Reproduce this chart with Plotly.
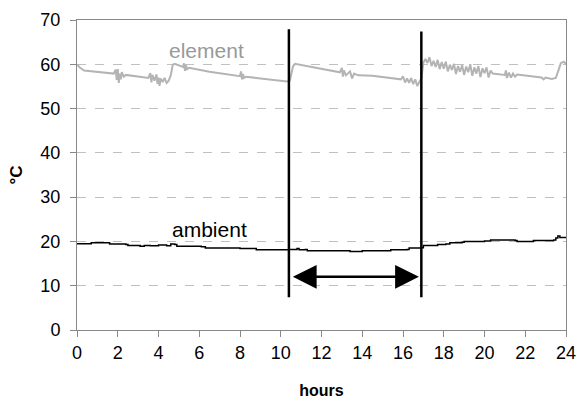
import plotly.graph_objects as go

# ---- data ----
element_hours = [0.0, 0.15, 0.35, 1.0, 1.8, 1.9, 1.95, 2.0, 2.05, 2.1, 2.15, 2.2, 2.3, 2.4,
                 3.0, 3.5, 3.6, 3.65, 3.7, 3.8, 3.9, 3.95, 4.0, 4.05, 4.1, 4.2, 4.3, 4.4, 4.5,
                 4.6, 4.7, 4.8, 5.2, 5.25, 5.3, 5.35, 5.4, 5.5, 6.5, 7.5, 8.0, 8.05, 8.1, 8.15,
                 8.2, 8.3, 9.5, 10.3, 10.45, 10.6, 10.7, 11.5, 12.4, 12.9, 13.0, 13.05, 13.1,
                 13.2, 13.4, 13.5, 13.6, 13.8, 14.5, 15.5, 15.9, 16.0, 16.1, 16.2, 16.3, 16.4,
                 16.5, 16.6, 16.7, 16.8, 16.9, 17.0, 17.1, 17.2, 17.3, 17.4, 17.5, 17.6, 17.7,
                 17.8, 17.9, 18.0, 18.1, 18.2, 18.3, 18.4, 18.5, 18.6, 18.7, 18.8, 18.9, 19.0,
                 19.1, 19.2, 19.3, 19.4, 19.5, 19.6, 19.7, 19.8, 19.9, 20.0, 20.1, 20.2, 20.3,
                 20.4, 20.8, 21.0, 21.05, 21.1, 21.2, 21.3, 21.4, 21.5, 21.6, 22.3, 22.8, 22.9,
                 23.0, 23.3, 23.5, 23.65, 23.75, 23.9, 24.0]
element_temp = [60.0, 59.2, 58.6, 58.3, 57.9, 58.8, 56.5, 58.9, 55.8, 57.9, 56.6, 58.2, 57.2, 57.6,
                57.2, 56.9, 58.0, 55.9, 57.6, 56.3, 57.7, 55.6, 57.0, 55.1, 56.8, 56.0, 56.9, 55.8, 56.3,
                57.5, 59.9, 60.1, 59.4, 60.2, 58.5, 59.8, 58.9, 59.2, 58.3, 57.6, 57.3, 58.4, 56.6, 57.8,
                56.9, 57.2, 56.6, 56.1, 56.4, 59.5, 60.1, 59.4, 58.5, 58.2, 59.2, 57.2, 58.6,
                57.5, 58.4, 56.8, 57.9, 57.5, 57.4, 56.8, 56.6, 57.3, 55.9, 56.8, 55.8, 56.9,
                55.5, 56.6, 55.1, 56.0, 56.8, 60.4, 61.2, 60.3, 61.6, 59.6, 60.8, 59.4, 61.0,
                58.9, 60.5, 59.0, 60.6, 58.4, 59.9, 58.7, 60.1, 57.8, 59.6, 58.3, 59.8, 57.6,
                59.5, 58.2, 60.0, 57.4, 59.3, 57.9, 59.6, 57.1, 59.1, 58.0, 59.3, 57.0, 58.6,
                57.9, 57.8, 57.6, 58.6, 56.9, 58.1, 57.0, 57.9, 57.2, 57.7, 57.2, 57.0, 56.6,
                57.0, 56.7, 56.9, 58.9, 60.3, 60.6, 60.0]

ambient_hours = [0, 0.6, 0.7, 1.4, 1.6, 2.4, 2.5, 3.0, 3.1, 3.3, 3.6, 3.9, 4.0, 4.4, 4.6, 4.8, 4.9,
                 6.1, 6.3, 8.0, 8.7, 8.8, 10.3, 10.4, 10.8, 10.9, 11.2, 11.3, 13.2, 13.4, 13.8,
                 14.0, 15.3, 15.4, 16.2, 16.3, 16.9, 17.0, 17.6, 17.7, 18.1, 18.3, 18.9, 19.0,
                 20.0, 20.3, 21.5, 21.6, 22.3, 22.4, 23.4, 23.5, 23.6, 23.7, 24.0]
ambient_temp = [19.5, 19.5, 19.7, 19.7, 19.4, 19.3, 19.1, 19.1, 18.9, 19.1, 19.0, 19.0, 19.2, 19.0,
                19.4, 19.3, 18.9, 18.8, 18.5, 18.4, 18.4, 18.1, 18.1, 18.2, 18.4, 18.1, 18.2, 17.9,
                17.9, 17.7, 17.7, 17.9, 17.9, 18.1, 18.2, 18.5, 18.6, 19.1, 19.1, 19.3, 19.4,
                19.7, 19.8, 20.0, 20.1, 20.3, 20.2, 20.0, 20.0, 20.2, 20.3, 20.8, 21.2, 20.9, 20.7]

marker_hours = [10.4, 16.9]
marker_top = [67.9, 67.4]
marker_bottom = 7.4
arrow_y = 12.0
arrow_start = 10.52
arrow_end = 16.78

x_ticks = list(range(0, 25, 2))
y_ticks = list(range(0, 71, 10))

FONT = "Liberation Sans, Arial, sans-serif"

fig = go.Figure()
fig.add_trace(go.Scatter(x=element_hours, y=element_temp, mode="lines",
                         line=dict(color="#b4b4b4", width=2), hoverinfo="skip"))
fig.add_trace(go.Scatter(x=ambient_hours, y=ambient_temp, mode="lines",
                         line=dict(color="#000000", width=1.5, shape="hv"), hoverinfo="skip"))
for h, top in zip(marker_hours, marker_top):
    fig.add_trace(go.Scatter(x=[h, h], y=[marker_bottom, top], mode="lines",
                             line=dict(color="#000000", width=2.5), hoverinfo="skip"))

fig.add_annotation(x=arrow_end, y=arrow_y, ax=arrow_start, ay=arrow_y,
                   xref="x", yref="y", axref="x", ayref="y", text="",
                   showarrow=True, arrowside="end+start", arrowhead=2,
                   arrowsize=1.9, arrowwidth=2.5, arrowcolor="#000000",
                   standoff=0, startstandoff=0)
fig.add_annotation(x=6.35, y=63.2, xref="x", yref="y", text="element", showarrow=False,
                   font=dict(family=FONT, size=21, color="#999999"))
fig.add_annotation(x=6.48, y=22.6, xref="x", yref="y", text="ambient", showarrow=False,
                   font=dict(family=FONT, size=21, color="#000000"))

axis_common = dict(showline=True, linecolor="#888888", linewidth=1, mirror=True,
                   ticks="outside", ticklen=6, tickcolor="#888888", zeroline=False,
                   automargin=False,
                   tickfont=dict(family=FONT, size=18, color="#000000"))
fig.update_xaxes(range=[0, 24], tickvals=x_ticks, showgrid=False,
                 title=dict(text="<b>hours</b>", font=dict(family=FONT, size=16, color="#000"), standoff=23),
                 **axis_common)
fig.update_yaxes(range=[0, 70], tickvals=y_ticks, showgrid=True, gridcolor="#c0c0c0",
                 griddash="dash", gridwidth=1, ticklabelstandoff=6,
                 title=dict(text="<b>°C</b>", font=dict(family=FONT, size=17, color="#000"), standoff=13),
                 **axis_common)

fig.update_layout(width=578, height=401, margin=dict(l=77, r=12, t=20, b=71),
                  paper_bgcolor="white", plot_bgcolor="white", showlegend=False)

fig.write_html("out.html", config={"displayModeBar": False})

# remove the default page margin so the figure sits at the window's top-left corner
with open("out.html", "r", encoding="utf-8") as f:
    html = f.read()
html = html.replace("<head>", "<head><style>html,body{margin:0;padding:0;overflow:hidden;}</style>", 1)
with open("out.html", "w", encoding="utf-8") as f:
    f.write(html)
